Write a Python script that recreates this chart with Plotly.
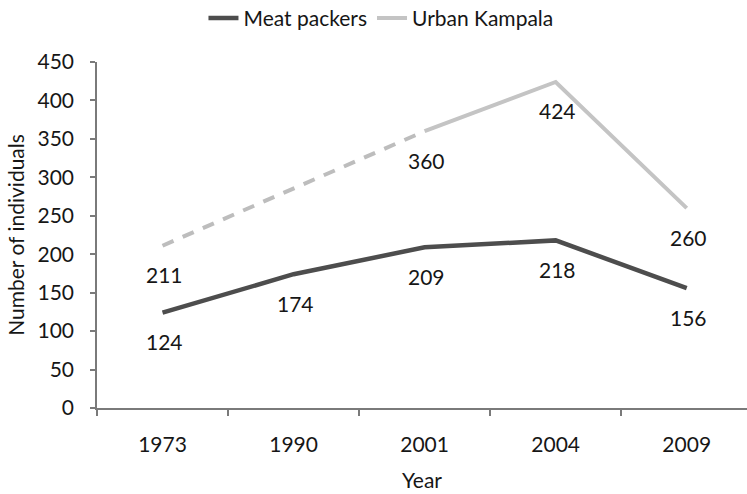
import plotly.graph_objects as go

years = ["1973", "1990", "2001", "2004", "2009"]
meat_packers = [124, 174, 209, 218, 156]
urban_kampala = [211, None, 360, 424, 260]
urban_dashed_upto = "2001"  # urban segment up to this year drawn dashed

FONT = "Lato"
FS = 21
TXT = "#161616"
cut = years.index(urban_dashed_upto)

urban_early = [v if i <= cut else None for i, v in enumerate(urban_kampala)]
urban_late = [v if i >= cut else None for i, v in enumerate(urban_kampala)]

fig = go.Figure()
fig.add_trace(go.Scatter(
    x=years, y=meat_packers, mode="lines", name="Meat packers",
    line=dict(color="#4d4d4d", width=4.5),
))
fig.add_trace(go.Scatter(
    x=years, y=urban_early, mode="lines", name="Urban Kampala", showlegend=False,
    connectgaps=True, line=dict(color="#bdbdbd", width=4, dash="12px,10px"),
))
fig.add_trace(go.Scatter(
    x=years, y=urban_late, mode="lines", name="Urban Kampala",
    line=dict(color="#c4c4c4", width=4),
))

for series in (meat_packers, urban_kampala):
    for i, v in enumerate(series):
        if v is None:
            continue
        fig.add_annotation(x=i, y=v, xref="x", yref="y", text=str(v),
                           showarrow=False, yshift=-29, xshift=2,
                           font=dict(family=FONT, size=FS, color=TXT))

fig.update_layout(
    width=747, height=494,
    margin=dict(l=97, r=0, t=62, b=86),
    paper_bgcolor="white", plot_bgcolor="white",
    font=dict(family=FONT, size=FS, color=TXT),
    showlegend=True,
    legend=dict(orientation="h", xref="container", x=0.51, xanchor="center",
                yref="container", y=0.963, yanchor="middle",
                font=dict(family=FONT, size=FS, color=TXT),
                itemwidth=30, tracegroupgap=0),
    xaxis=dict(type="category", range=[-0.5, 4.46], tickson="boundaries",
               ticks="outside", ticklen=6, tickcolor="#7a7a7a", tickwidth=1.5,
               showline=True, linecolor="#7a7a7a", linewidth=1.5,
               showgrid=False, zeroline=False, ticklabelstandoff=17,
               title=dict(text="Year", standoff=18,
                          font=dict(family=FONT, size=FS, color=TXT))),
    yaxis=dict(range=[0, 450], dtick=50, ticks="outside", ticklen=5,
               tickcolor="#7a7a7a", tickwidth=1.5,
               showline=True, linecolor="#7a7a7a", linewidth=1.5,
               showgrid=False, zeroline=False, ticklabelstandoff=12,
               title=dict(text="Number of individuals", standoff=7,
                          font=dict(family=FONT, size=FS, color=TXT))),
)

fig.write_html("out.html")
